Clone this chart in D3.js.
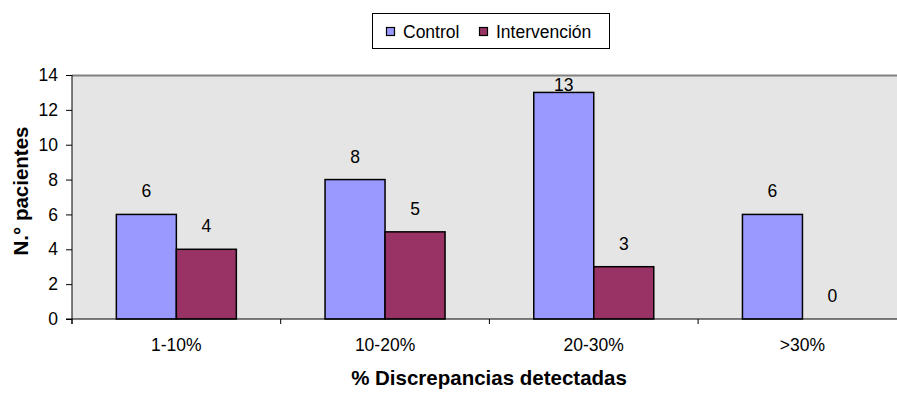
<!DOCTYPE html>
<html><head><meta charset="utf-8">
<script src="https://cdn.jsdelivr.net/npm/d3@7/dist/d3.min.js"></script>
<style>body{margin:0;background:#fff;overflow:hidden;} svg{display:block;font-family:"Liberation Sans",Arial,sans-serif;}</style>
</head><body>
<svg id="c" width="897" height="393"></svg>
<script>
const categories = ["1-10%", "10-20%", "20-30%", ">30%"];
const seriesNames = ["Control", "Intervención"];
const control = [6, 8, 13, 6];
const intervencion = [4, 5, 3, 0];
const yTicks = [0, 2, 4, 6, 8, 10, 12, 14];
const colors = ["#9999ff", "#993366"];

(function () {
const svg = d3.select("#c");
const pLeft = 72, pTop = 75, pBottom = 319, bandW = 208.7;
const pRight = pLeft + bandW * categories.length;
const FS = 17.5;

const x = d3.scaleBand().domain(categories).range([pLeft, pRight]).paddingInner(0).paddingOuter(0);
const inner = d3.scaleBand().domain(seriesNames).range([0, 120]);
const y = d3.scaleLinear().domain([0, 14]).range([pBottom, pTop]);

svg.append("rect").attr("x", pLeft).attr("y", pTop).attr("width", pRight - pLeft).attr("height", pBottom - pTop).attr("fill", "#e5e5e5");
svg.append("line").attr("x1", pLeft).attr("x2", pRight).attr("y1", pTop + 0.5).attr("y2", pTop + 0.5).attr("stroke", "#808080").attr("stroke-width", 2);

const data = categories.map((c, i) => ({cat: c, vals: [control[i], intervencion[i]]}));
const g = svg.append("g");
data.forEach(d => {
  const gx = x(d.cat) + (x.bandwidth() - 120) / 2;
  d.vals.forEach((v, j) => {
    const bx = gx + inner(seriesNames[j]);
    if (v > 0) {
      g.append("rect").attr("x", bx).attr("y", y(v)).attr("width", inner.bandwidth()).attr("height", y(0) - y(v))
        .attr("fill", colors[j]).attr("stroke", "#000").attr("stroke-width", 1.5);
    }
    let ly = y(v) - 17;
    if (ly < pTop + 14) ly = y(v) - 1.5;
    g.append("text").attr("x", bx + inner.bandwidth() / 2).attr("y", ly).attr("text-anchor", "middle")
      .attr("font-size", FS).attr("fill", "#000").text(v);
  });
});

const yAxis = d3.axisLeft(y).tickValues(yTicks).tickSize(6).tickPadding(8);
const ya = svg.append("g").attr("transform", `translate(${pLeft},0)`).call(yAxis);
ya.select(".domain").attr("stroke", "#000").attr("d", `M0,${pTop}V${pBottom + 5}`);
ya.selectAll("text").attr("font-size", FS).attr("font-family", "Liberation Sans, Arial, sans-serif").attr("fill", "#000");

const xa = svg.append("g").attr("transform", `translate(0,${pBottom})`);
xa.append("line").attr("x1", pLeft - 6).attr("x2", pRight).attr("y1", 0).attr("y2", 0).attr("stroke", "#000");
categories.forEach((c) => {
  xa.append("line").attr("x1", x(c)).attr("x2", x(c)).attr("y1", 0).attr("y2", 5).attr("stroke", "#000");
  xa.append("text").attr("x", x(c) + x.bandwidth() / 2).attr("y", 32).attr("text-anchor", "middle")
    .attr("font-size", FS).attr("fill", "#000").text(c);
});

svg.append("text").attr("x", 489).attr("y", 385).attr("text-anchor", "middle").attr("font-size", 20.5).attr("font-weight", "bold").text("% Discrepancias detectadas");
svg.append("text").attr("transform", "translate(27.5,191) rotate(-90)").attr("text-anchor", "middle").attr("font-size", 20.5).attr("font-weight", "bold").text("N.° pacientes");

const lg = svg.append("g");
lg.append("rect").attr("x", 372.5).attr("y", 13.5).attr("width", 237).attr("height", 35).attr("fill", "#fff").attr("stroke", "#000");
const legX = [386, 479];
seriesNames.forEach((s, j) => {
  lg.append("rect").attr("x", legX[j] + 0.5).attr("y", 27.5).attr("width", 8).attr("height", 8).attr("fill", colors[j]).attr("stroke", "#000").attr("stroke-width", 1.2);
  lg.append("text").attr("x", legX[j] + 17).attr("y", 37.5).attr("font-size", FS).attr("fill", "#000").text(s);
});
})();
</script>
</body></html>
